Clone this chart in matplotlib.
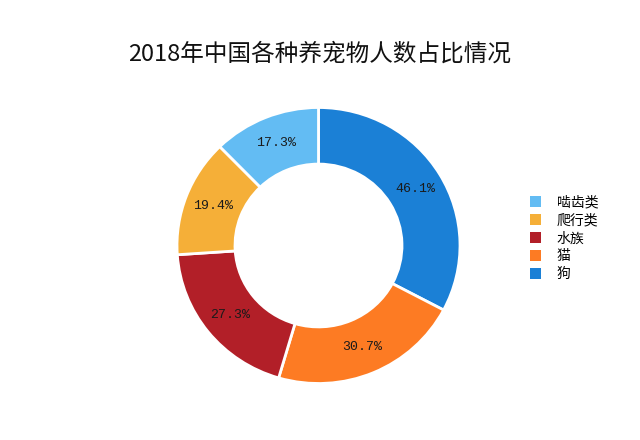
import matplotlib
matplotlib.use("Agg")
import matplotlib.pyplot as plt

plt.rcParams['font.family'] = ['Noto Sans CJK SC', 'DejaVu Sans']

categories = ['狗', '猫', '水族', '爬行类', '啮齿类']
values = [46.1, 30.7, 27.3, 19.4, 17.3]
colors = ['#1b80d6', '#fd7b23', '#b21f28', '#f5af38', '#63bcf3']
title = '2018年中国各种养宠物人数占比情况'

fig = plt.figure(figsize=(6.4, 4.4), dpi=100)
# ring centre ~ (318, 245) px, radius ~141 x 138 px
cx, cy, rx, ry = 318.5, 440 - 245.5, 141.5, 138
ax = fig.add_axes([(cx - rx) / 640, (cy - ry) / 440, 2 * rx / 640, 2 * ry / 440])

wedges, texts = ax.pie(values, colors=colors, startangle=90, counterclock=False,
                       labels=[f'{v}%' for v in values], labeldistance=0.80,
                       wedgeprops=dict(width=0.41, edgecolor='white', linewidth=2),
                       textprops=dict(ha='center', va='center', fontsize=9.5,
                                      family='Liberation Mono', color='#1a1a1a'))
ax.set_aspect('auto')
ax.set_xlim(-1, 1)
ax.set_ylim(-1, 1)
ax.axis('off')

fig.text(0.5, 1 - 54 / 440, title, ha='center', va='center', fontsize=17, color='#111111')

leg = fig.legend(wedges[::-1], categories[::-1], loc='upper left',
                 bbox_to_anchor=(524 / 640, 1 - 190 / 440), frameon=False,
                 fontsize=10, handlelength=0.85, handleheight=0.85,
                 labelspacing=0.28, handletextpad=1.1, borderaxespad=0)
for h in leg.legend_handles:
    h.set_edgecolor('none')

fig.savefig('out.png', dpi=100)
